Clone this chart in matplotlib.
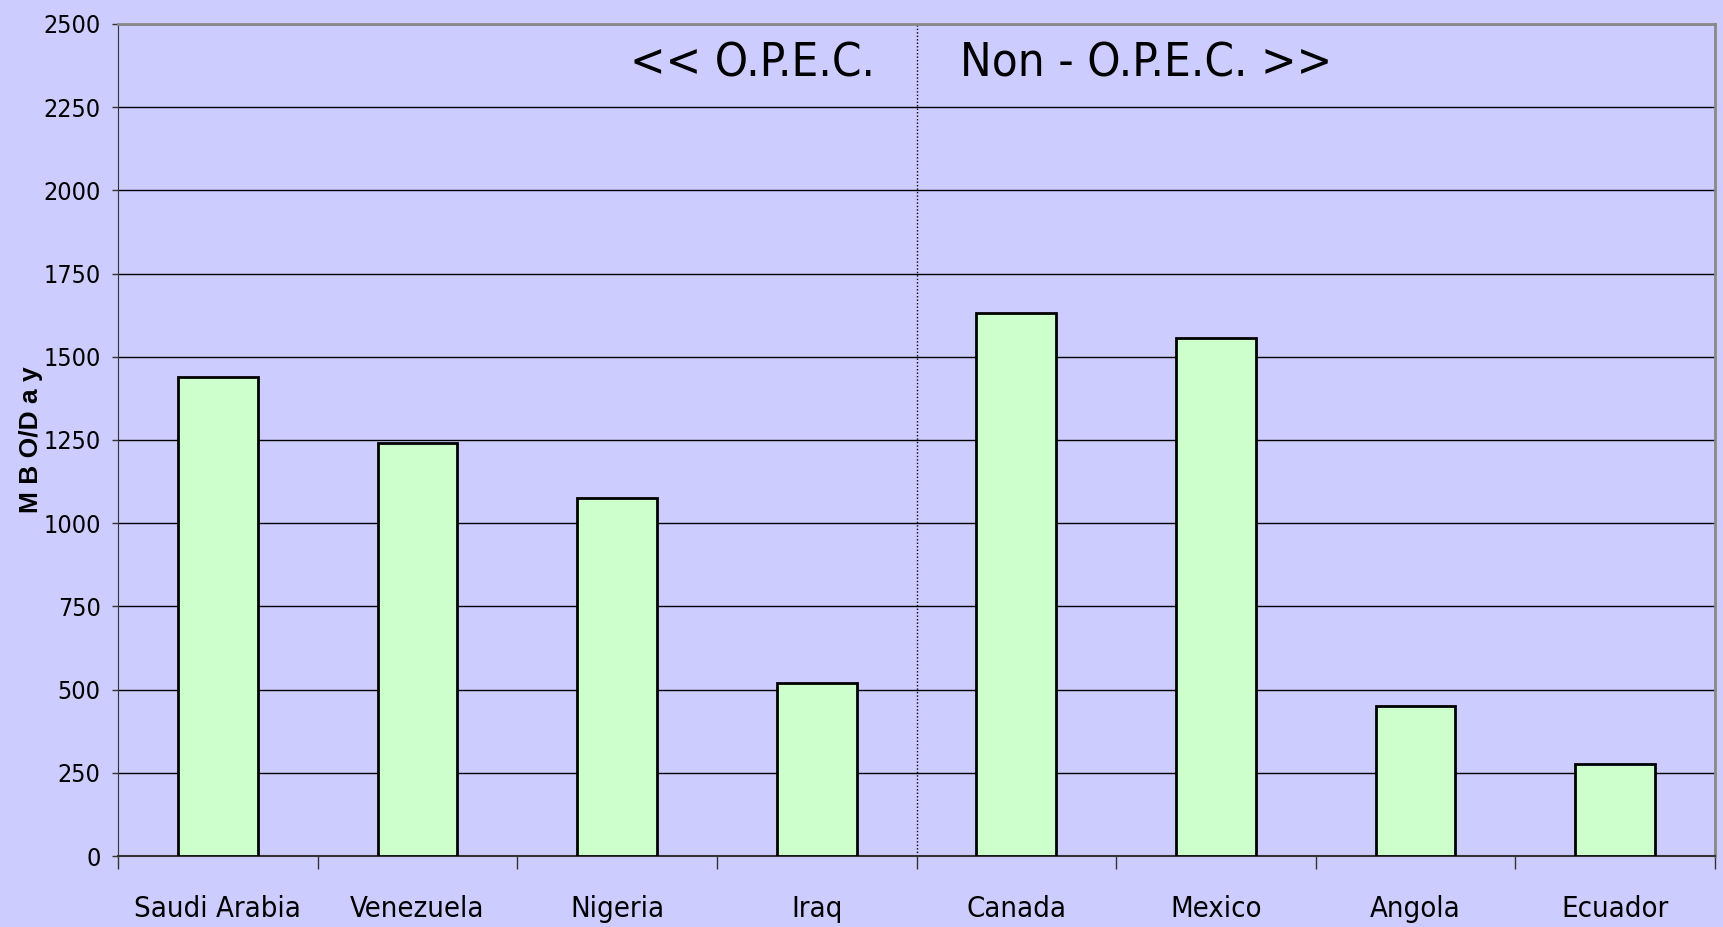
import matplotlib
matplotlib.use('Agg')
import matplotlib.pyplot as plt
from matplotlib import font_manager
import numpy as np

countries = ['Saudi Arabia', 'Venezuela', 'Nigeria', 'Iraq',
             'Canada', 'Mexico', 'Angola', 'Ecuador']
mbo_day = [1440, 1240, 1075, 520, 1632, 1555, 452, 277]
y_ticks = [0, 250, 500, 750, 1000, 1250, 1500, 1750, 2000, 2250, 2500]

# look for a narrow sans font (Arial Narrow look)
narrow = None
for pref in ['Liberation Sans Narrow', 'Noto Sans', 'DejaVu Sans', 'Open Sans', 'Roboto']:
    for f in font_manager.fontManager.ttflist:
        fn = f.fname.lower()
        if f.name.startswith(pref) and ('condensed' in fn or 'narrow' in fn) \
                and 'bold' not in fn and 'italic' not in fn and 'oblique' not in fn \
                and 'semi' not in fn and 'extra' not in fn and 'light' not in fn and 'medium' not in fn:
            narrow = font_manager.FontProperties(fname=f.fname)
            break
    if narrow is not None:
        break
if narrow is None:
    narrow = font_manager.FontProperties(family='Liberation Sans')
    scale = 0.8
else:
    scale = 1.0

def fp(size):
    p = narrow.copy()
    p.set_size(size * scale)
    return p

bg = '#CCCCFF'
fig = plt.figure(figsize=(17.23, 9.27), dpi=100, facecolor=bg)
ax = fig.add_axes([118 / 1723, (927 - 856) / 927, (1715 - 118) / 1723, (856 - 24) / 927])
ax.set_facecolor(bg)

x = np.arange(len(countries))
ax.bar(x, mbo_day, width=0.4, color='#CCFFCC', edgecolor='black', linewidth=2, zorder=3)

ax.set_xlim(-0.5, len(countries) - 0.5)
ax.set_ylim(0, 2500)
ax.set_yticks(y_ticks)
ax.set_yticklabels([str(t) for t in y_ticks], fontproperties=fp(18))
ax.yaxis.grid(True, color='black', linewidth=1)
ax.set_axisbelow(True)

ax.set_xticks(x)
ax.set_xticklabels(countries, fontproperties=fp(21))
ax.set_xticks(np.arange(-0.5, len(countries)), minor=True)
ax.tick_params(axis='x', which='major', length=0, pad=28)
ax.tick_params(axis='x', which='minor', length=9, width=1, color='#333333', direction='out')
ax.tick_params(axis='y', length=4.5, width=1, pad=8, color='#333333')

for side in ['top', 'right']:
    ax.spines[side].set_color('#888888')
    ax.spines[side].set_linewidth(2)
ax.spines['left'].set_color('#333333')
ax.spines['bottom'].set_color('#333333')
ax.spines['bottom'].set_linewidth(1.5)

# OPEC / non-OPEC split
ax.axvline(3.5, color='black', linestyle=(0, (1, 1.5)), linewidth=1, zorder=2)
ax.text(3.29, 2380, '<< O.P.E.C.', fontproperties=fp(34), ha='right', va='center')
ax.text(3.72, 2380, 'Non - O.P.E.C. >>', fontproperties=fp(34), ha='left', va='center')

ax.set_ylabel('M B O/D a y', fontsize=19, fontweight='bold', family='Liberation Sans')
ax.yaxis.set_label_coords(-0.047, 0.5)

fig.savefig('out.png', dpi=100, facecolor=bg)
